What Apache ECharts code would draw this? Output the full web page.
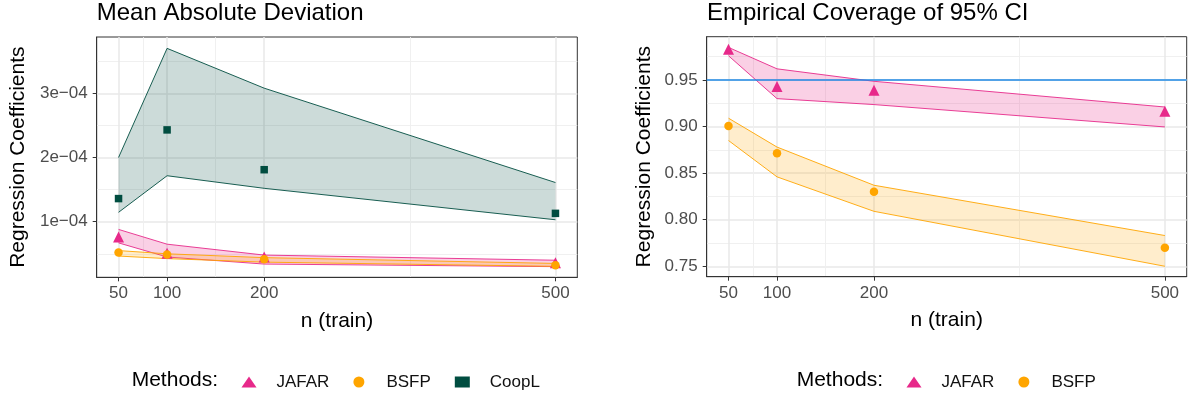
<!DOCTYPE html>
<html><head><meta charset="utf-8">
<script src="https://cdn.jsdelivr.net/npm/echarts@6/dist/echarts.min.js"></script>
<style>html,body{margin:0;padding:0;background:#fff}#c{width:1188px;height:396px}</style>
</head><body><div id="c"></div>
<script>
// ---------- data ----------
const nTrain = [50, 100, 200, 500];
const xTicks = [50, 100, 200, 500];
const xMinorTicks = [75, 150, 350];

// Panel 1: Mean Absolute Deviation
const madJafar   = [0.76e-4, 0.51e-4, 0.45e-4, 0.36e-4];
const madJafarHi = [0.88e-4, 0.65e-4, 0.48e-4, 0.40e-4];
const madJafarLo = [0.67e-4, 0.45e-4, 0.34e-4, 0.30e-4];
const madBsfp    = [0.52e-4, 0.49e-4, 0.415e-4, 0.32e-4];
const madBsfpHi  = [0.55e-4, 0.50e-4, 0.44e-4, 0.35e-4];
const madBsfpLo  = [0.465e-4, 0.425e-4, 0.37e-4, 0.305e-4];
const madCoopl   = [1.36e-4, 2.43e-4, 1.81e-4, 1.13e-4];
const madCooplHi = [2.00e-4, 3.70e-4, 3.08e-4, 1.61e-4];
const madCooplLo = [1.146e-4, 1.716e-4, 1.52e-4, 1.03e-4];
const madTicks = [1e-4, 2e-4, 3e-4];
const madTickLabels = ['1e\u221204', '2e\u221204', '3e\u221204'];
const madMinorTicks = [0.5e-4, 1.5e-4, 2.5e-4, 3.5e-4];

// Panel 2: Empirical Coverage of 95% CI
const covJafar   = [0.983, 0.943, 0.939, 0.9164];
const covJafarHi = [0.985, 0.962, 0.9486, 0.921];
const covJafarLo = [0.976, 0.930, 0.9236, 0.8996];
const covBsfp    = [0.9007, 0.8713, 0.830, 0.770];
const covBsfpHi  = [0.909, 0.878, 0.837, 0.783];
const covBsfpLo  = [0.885, 0.846, 0.809, 0.750];
const covTicks = [0.75, 0.80, 0.85, 0.90, 0.95];
const covTickLabels = ['0.75', '0.80', '0.85', '0.90', '0.95'];
const covMinorTicks = [0.775, 0.825, 0.875, 0.925, 0.975];
const targetCoverage = 0.95;

// ---------- styling ----------
const FONT = '"Liberation Sans", Arial, Helvetica, sans-serif';
const C = { jafar: '#E7298A', bsfp: '#FFA500', coopl: '#004D40', target: '#1E88E5' };
const FILL = { jafar: 'rgba(231,41,138,0.22)', bsfp: 'rgba(255,165,0,0.2)', coopl: 'rgba(0,77,64,0.2)' };
const xMin = 27.5, xMax = 522.5;
const madMin = 0.134e-4, madMax = 3.877e-4;
const covMin = 0.7388, covMax = 0.9965;

function band(name, ax, lo, hi, color, fill) {
  return {
    type: 'custom', name: name + ' band', xAxisIndex: ax, yAxisIndex: ax, silent: true, z: 2,
    data: [[nTrain[0], lo[0]]],
    renderItem: function (params, api) {
      const up = nTrain.map((x, i) => api.coord([x, hi[i]]));
      const dn = nTrain.map((x, i) => api.coord([x, lo[i]]));
      return { type: 'group', children: [
        { type: 'polygon', shape: { points: up.concat(dn.slice().reverse()) }, style: { fill: fill } },
        { type: 'polyline', shape: { points: up }, style: { stroke: color, lineWidth: 0.9, fill: null } },
        { type: 'polyline', shape: { points: dn }, style: { stroke: color, lineWidth: 0.9, fill: null } }
      ]};
    }
  };
}
function pts(name, ax, vals, color, symbol, size, extra) {
  return Object.assign({
    type: 'scatter', name: name, xAxisIndex: ax, yAxisIndex: ax, z: 5,
    data: nTrain.map((x, i) => [x, vals[i]]),
    symbol: symbol, symbolSize: size,
    itemStyle: { color: color, opacity: 1 },
    emphasis: { disabled: true }
  }, extra || {});
}
function xMajor(g) {
  return { type: 'value', gridIndex: g, min: xMin, max: xMax,
    name: 'n (train)', nameLocation: 'middle', nameGap: 33,
    nameTextStyle: { fontSize: 21, color: '#000', fontFamily: FONT },
    axisLine: { show: true, lineStyle: { color: '#333', width: 1 } },
    axisTick: { show: true, length: 4, lineStyle: { color: '#333', width: 1 }, customValues: xTicks },
    axisLabel: { customValues: xTicks, fontSize: 17, color: '#4d4d4d', margin: 8, fontFamily: FONT },
    splitLine: { show: true, lineStyle: { color: '#e8e8e8', width: 1.5 } } };
}
function xMinor(g) {
  return { type: 'value', gridIndex: g, min: xMin, max: xMax,
    axisLine: { show: false }, axisLabel: { show: false },
    axisTick: { show: false, customValues: xMinorTicks },
    splitLine: { show: true, lineStyle: { color: '#eeeeee', width: 0.9 } } };
}
function yMajor(g, mn, mx, ticks, labels, gap) {
  return { type: 'value', gridIndex: g, min: mn, max: mx, position: 'left',
    name: 'Regression Coefficients', nameLocation: 'middle', nameGap: gap, nameRotate: 90,
    nameTextStyle: { fontSize: 21, color: '#000', fontFamily: FONT },
    axisLine: { show: true, lineStyle: { color: '#333', width: 1 } },
    axisTick: { show: true, length: 4, lineStyle: { color: '#333', width: 1 }, customValues: ticks },
    axisLabel: { customValues: ticks, fontSize: 17, color: '#4d4d4d', margin: 9, fontFamily: FONT,
      formatter: function (v) { let k = 0, d = Infinity; ticks.forEach((t, i) => { const e = Math.abs(t - v); if (e < d) { d = e; k = i; } }); return labels[k]; } },
    splitLine: { show: true, lineStyle: { color: '#e8e8e8', width: 1.5 } } };
}
function yMinor(g, mn, mx, ticks) {
  return { type: 'value', gridIndex: g, min: mn, max: mx, position: 'left',
    axisLine: { show: false }, axisLabel: { show: false },
    axisTick: { show: false, customValues: ticks },
    splitLine: { show: true, lineStyle: { color: '#eeeeee', width: 0.9 } } };
}

const chart = echarts.init(document.getElementById('c'), null, { renderer: 'canvas' });
const legendCommon = { orient: 'horizontal', top: 373.5, padding: 0, itemWidth: 15, itemHeight: 11, itemGap: 24,
  selectedMode: false, textStyle: { fontSize: 17, color: '#111', fontFamily: FONT, padding: [0, 0, 0, 15] } };
chart.setOption({
  animation: false,
  backgroundColor: '#fff',
  textStyle: { fontFamily: FONT },
  grid: [
    { left: 96.7, top: 37, width: 480.6, height: 240.3, show: true, borderColor: '#333', borderWidth: 1, backgroundColor: '#fff', containLabel: false, outerBoundsMode: 'none' },
    { left: 706.7, top: 36.7, width: 480, height: 240, show: true, borderColor: '#333', borderWidth: 1, backgroundColor: '#fff', containLabel: false, outerBoundsMode: 'none' }
  ],
  xAxis: [xMajor(0), xMinor(0), xMajor(1), xMinor(1)],
  yAxis: [
    yMajor(0, madMin, madMax, madTicks, madTickLabels, 68), yMinor(0, madMin, madMax, madMinorTicks),
    yMajor(1, covMin, covMax, covTicks, covTickLabels, 52), yMinor(1, covMin, covMax, covMinorTicks)
  ],
  legend: [
    Object.assign({}, legendCommon, { left: 241.5, data: [{ name: 'JAFAR', icon: 'triangle' }, { name: 'BSFP', icon: 'circle' }, { name: 'CoopL', icon: 'rect' }] }),
    Object.assign({}, legendCommon, { left: 906.5, data: [{ name: 'JAFAR', icon: 'triangle' }, { name: 'BSFP', icon: 'circle' }] })
  ],
  graphic: [
    { type: 'text', x: 96.7, y: 13, silent: true, style: { text: 'Mean Absolute Deviation', font: '24px ' + FONT, fill: '#000', align: 'left', verticalAlign: 'middle', textAlign: 'left', textVerticalAlign: 'middle' } },
    { type: 'text', x: 707, y: 13, silent: true, style: { text: 'Empirical Coverage of 95% CI', font: '24px ' + FONT, fill: '#000', align: 'left', verticalAlign: 'middle', textAlign: 'left', textVerticalAlign: 'middle' } },
    { type: 'text', x: 131.7, y: 380.5, silent: true, style: { text: 'Methods:', font: '21px ' + FONT, fill: '#000', align: 'left', verticalAlign: 'middle', textAlign: 'left', textVerticalAlign: 'middle' } },
    { type: 'text', x: 796.7, y: 380.5, silent: true, style: { text: 'Methods:', font: '21px ' + FONT, fill: '#000', align: 'left', verticalAlign: 'middle', textAlign: 'left', textVerticalAlign: 'middle' } }
  ],
  series: [
    band('JAFAR', 0, madJafarLo, madJafarHi, C.jafar, FILL.jafar),
    band('BSFP', 0, madBsfpLo, madBsfpHi, C.bsfp, FILL.bsfp),
    band('CoopL', 0, madCooplLo, madCooplHi, C.coopl, FILL.coopl),
    pts('JAFAR', 0, madJafar, C.jafar, 'triangle', 11),
    pts('BSFP', 0, madBsfp, C.bsfp, 'circle', 8.5),
    pts('CoopL', 0, madCoopl, C.coopl, 'rect', 7.5),
    band('JAFAR', 2, covJafarLo, covJafarHi, C.jafar, FILL.jafar),
    band('BSFP', 2, covBsfpLo, covBsfpHi, C.bsfp, FILL.bsfp),
    pts('BSFP', 2, covBsfp, C.bsfp, 'circle', 8.5),
    pts('JAFAR', 2, covJafar, C.jafar, 'triangle', 11, {
      markLine: { silent: true, symbol: ['none', 'none'], label: { show: false },
        lineStyle: { color: C.target, width: 1.6, type: 'solid' }, emphasis: { disabled: true },
        data: [{ yAxis: targetCoverage }] }
    })
  ]
});
</script></body></html>
